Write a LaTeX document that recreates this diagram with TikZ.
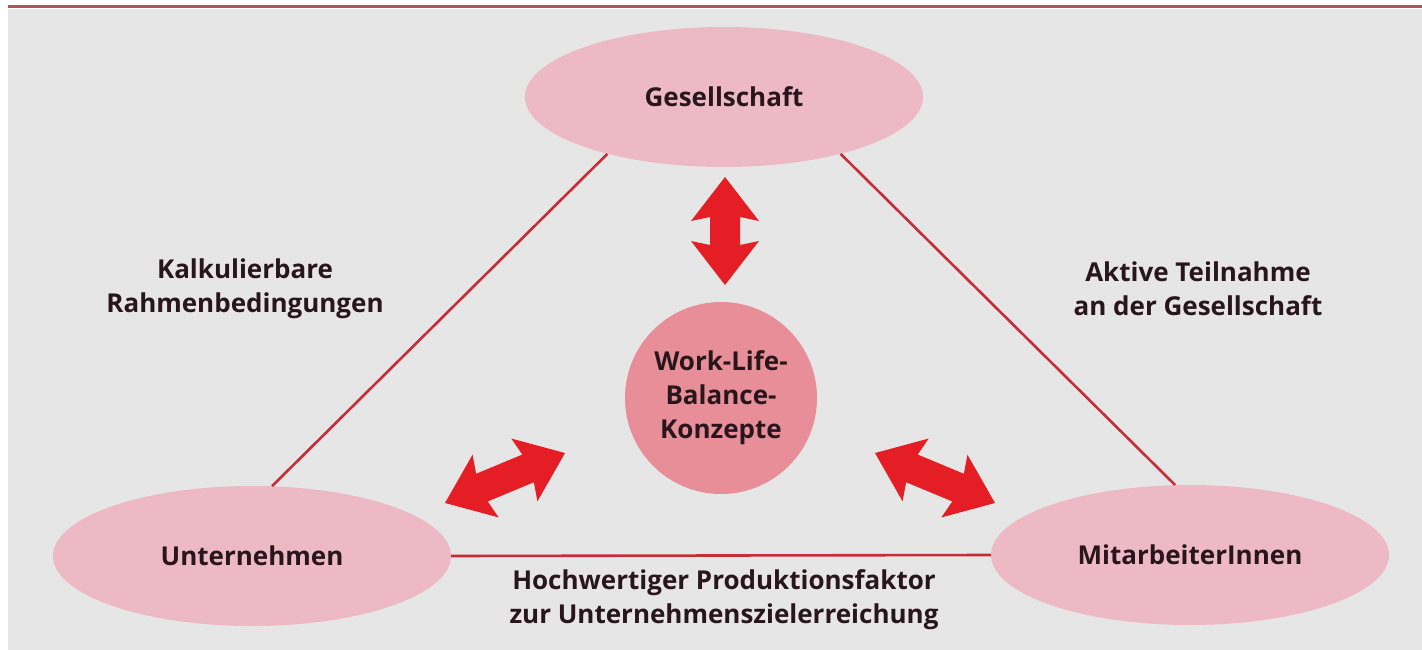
\documentclass[tikz,border=0pt]{standalone}
\usepackage{fontspec}
\setmainfont{Open Sans}
\usetikzlibrary{shapes.geometric}
\definecolor{bggray}{RGB}{230,230,230}
\definecolor{pinkfill}{RGB}{237,185,196}
\definecolor{circfill}{RGB}{232,142,152}
\definecolor{linered}{RGB}{198,45,55}
\definecolor{topred}{RGB}{175,85,90}
\definecolor{arrowred}{RGB}{228,30,36}
\definecolor{txt}{RGB}{40,22,28}
\tikzset{
  txtfont/.style={font=\bfseries\fontsize{26}{34}\selectfont, text=txt},
  oval/.style={ellipse, fill=pinkfill, minimum width=398pt, minimum height=140pt, inner sep=0pt, txtfont},
  centre/.style={circle, fill=circfill, minimum size=192pt, inner sep=0pt, align=center, txtfont},
  label/.style={align=center, txtfont, inner sep=0pt},
  conn/.style={draw=linered, line width=2.6pt},
  dblarrow/.pic={
    \fill[arrowred] (-#1,0) -- ({-#1+44},-34) -- ({-#1+40},-15) -- ({#1-40},-15) -- ({#1-44},-34)
      -- (#1,0) -- ({#1-44},34) -- ({#1-40},15) -- ({-#1+40},15) -- ({-#1+44},34) -- cycle;
  }
}
\begin{document}
\begin{tikzpicture}[x=1pt,y=-1pt]
\useasboundingbox (0,0) rectangle (1422,650);
\fill[white] (0,0) rectangle (1422,650);
\fill[bggray] (8,9) rectangle (1422,650);
\draw[topred, line width=3pt] (8,7) -- (1422,7);

\node[oval] (g) at (724,97) {Gesellschaft};
\node[oval] (u) at (252,556) {Unternehmen};
\node[oval] (m) at (1190,555) {MitarbeiterInnen};
\node[centre] (c) at (721,398) {Work-Life-\\Balance-\\Konzepte};

\draw[conn] (g.206) -- (u.74);
\draw[conn] (g.334) -- (m.102);
\draw[conn] (u.east) -- (m.west);

\pic[rotate=90] (av) at (725,231) {dblarrow=54};
\pic[rotate=22.6] (al) at (505,478) {dblarrow=65};
\pic[rotate=-22.6] (ar) at (935,478) {dblarrow=65};

\node[label] (lk) at (245,289) {Kalkulierbare\\Rahmenbedingungen};
\node[label] (la) at (1198,289) {Aktive Teilnahme\\an der Gesellschaft};
\node[label] (lh) at (724,600) {Hochwertiger Produktionsfaktor\\zur Unternehmenszielerreichung};
\end{tikzpicture}
\end{document}
